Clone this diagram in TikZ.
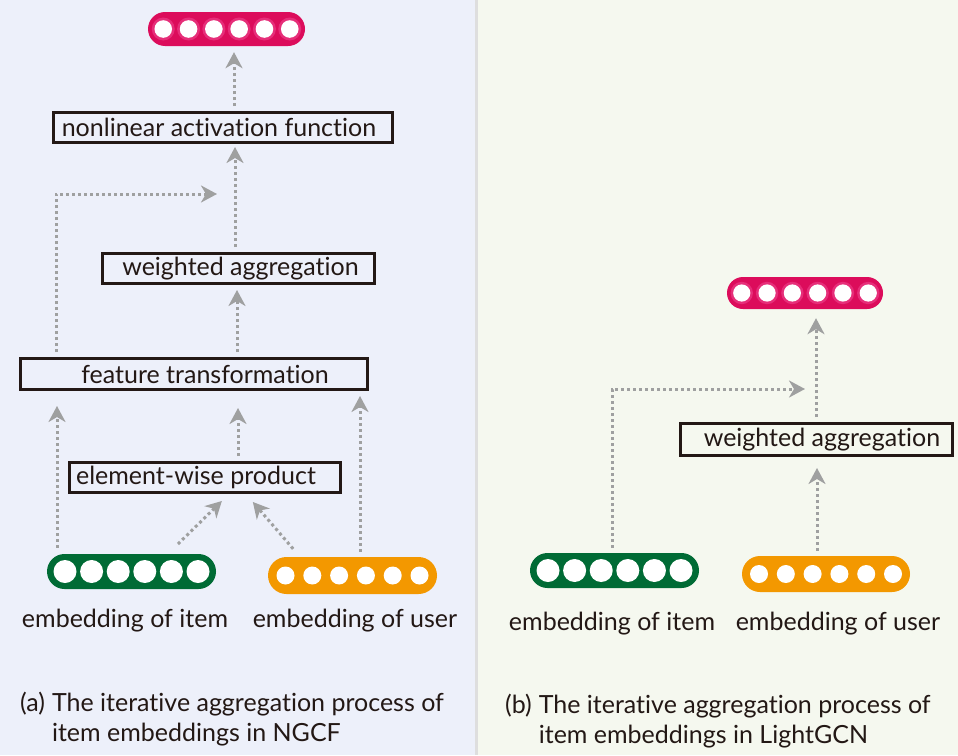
\documentclass[tikz,border=0pt]{standalone}
\usepackage{fontspec}
\setmainfont{Lato}[Ligatures={NoCommon,NoRequired,NoContextual}]
\usetikzlibrary{arrows.meta}

\definecolor{panelA}{HTML}{EDF0FA}
\definecolor{panelB}{HTML}{F5F8EF}
\definecolor{divider}{HTML}{DEDEDE}
\definecolor{ink}{HTML}{231815}
\definecolor{flowgray}{HTML}{9FA0A0}
\definecolor{outpink}{HTML}{DC0C5B}
\definecolor{outring}{HTML}{E62E79}
\definecolor{itemgreen}{HTML}{006B35}
\definecolor{userorange}{HTML}{F39800}

\newcommand{\txtsize}{\fontsize{25}{33}\selectfont}
\newcommand{\capsize}{\fontsize{25}{30}\selectfont}

\begin{document}
\begin{tikzpicture}[x=1pt,y=-1pt,
  opbox/.style={draw=ink, line width=3pt, inner sep=0pt, text=ink, font=\txtsize},
  flow/.style={draw=flowgray, line width=3pt, dash pattern=on 3pt off 3pt,
    -{Stealth[length=16pt,width=17pt,inset=5pt]}, shorten <=5pt},
  embbar/.style={inner sep=0pt, draw=none},
  lbl/.style={text=ink, font=\txtsize, inner sep=0pt},
  caption/.style={text=ink, font=\capsize, inner sep=0pt, anchor=base west}
]
\useasboundingbox (0,0) rectangle (958,755);

% two panels and the divider between them
\fill[panelA] (0,0) rectangle (475,755);
\fill[divider] (475,0) rectangle (478,755);
\fill[panelB] (478,0) rectangle (958,755);

% ---------- (a) NGCF ----------
\node[embbar, fill=outpink, minimum width=157pt, minimum height=34pt, rounded corners=17pt] (outL) at (226.5,29) {};
\foreach \i in {0,...,5} {
  \fill[outring] ([xshift={(\i-2.5)*25.3pt}]outL.center) circle[radius=11.5pt];
  \fill[white] ([xshift={(\i-2.5)*25.3pt}]outL.center) circle[radius=8.8pt];
}

\node[opbox, minimum width=339pt, minimum height=30pt] (nlf) at (223,127.5) {\hspace*{-8pt}nonlinear activation function};
\node[opbox, minimum width=272pt, minimum height=30pt] (waL) at (238.5,268.5) {\hspace*{4pt}weighted aggregation};
\node[opbox, minimum width=347pt, minimum height=31pt] (ftL) at (194,374) {\hspace*{22pt}feature transformation};
\node[opbox, minimum width=271pt, minimum height=30pt] (ewp) at (205,477.5) {element-wise product\hspace*{18pt}};

\node[embbar, fill=itemgreen, minimum width=169pt, minimum height=35pt, rounded corners=17.5pt] (gL) at (131.5,571.5) {};
\foreach \i in {0,...,5}
  \fill[white] ([xshift={(\i-2.5)*26.6pt}]gL.center) circle[radius=11.5pt];

\node[embbar, fill=userorange, minimum width=169pt, minimum height=37pt, rounded corners=18.5pt] (oL) at (352.5,575.5) {};
\foreach \i in {0,...,5}
  \fill[white] ([xshift={(\i-2.5)*26.8pt}]oL.center) circle[radius=9pt];

\coordinate (skipL) at (217,194);

\draw[flow, shorten >=6pt] (nlf.north -| 234,0) -- (outL.south -| 234,0);
\draw[flow, shorten >=3pt] (waL.north -| 235,0) -- (nlf.south -| 235,0);
\draw[flow] (ftL.north -| 56,0) |- (skipL);
\draw[flow, shorten >=5pt] (ftL.north -| 237,0) -- (waL.south -| 237,0);
\draw[flow, shorten <=6pt, shorten >=15pt] (gL.north -| 57,0) -- (ftL.south -| 57,0);
\draw[flow, shorten >=17pt] (ewp.north -| 238,0) -- (ftL.south -| 238,0);
\draw[flow, shorten >=5pt] (oL.north -| 360,0) -- (ftL.south -| 360,0);
\draw[flow, shorten <=14pt, shorten >=10pt] (gL.north -| 168,0) -- (ewp.south -| 229,0);
\draw[flow, shorten <=10.5pt, shorten >=10.5pt] (oL.north -| 300,0) -- (ewp.south -| 246,0);

\node[lbl] (lgL) at (125,621) {embedding of item};
\node[lbl] (loL) at (355,621) {embedding of user};

\node[caption] (capA) at (20,711)
  {(a)\hspace{7pt}\begin{tabular}[t]{@{}l@{}}The iterative aggregation process of\\item embeddings in NGCF\end{tabular}};

% ---------- (b) LightGCN ----------
\node[embbar, fill=outpink, minimum width=156pt, minimum height=32pt, rounded corners=16pt] (outR) at (805,293) {};
\foreach \i in {0,...,5} {
  \fill[outring] ([xshift={(\i-2.5)*25.3pt}]outR.center) circle[radius=11.2pt];
  \fill[white] ([xshift={(\i-2.5)*25.3pt}]outR.center) circle[radius=8.6pt];
}

\node[opbox, minimum width=272pt, minimum height=32pt] (waR) at (816.5,439.5) {\hspace*{11pt}weighted aggregation};

\node[embbar, fill=itemgreen, minimum width=169pt, minimum height=35pt, rounded corners=17.5pt] (gR) at (614.5,570.5) {};
\foreach \i in {0,...,5}
  \fill[white] ([xshift={(\i-2.5)*26.6pt}]gR.center) circle[radius=11.5pt];

\node[embbar, fill=userorange, minimum width=168pt, minimum height=36pt, rounded corners=18pt] (oR) at (826,574) {};
\foreach \i in {0,...,5}
  \fill[white] ([xshift={(\i-2.5)*26.8pt}]oR.center) circle[radius=9pt];

\coordinate (skipR) at (805,389);

\draw[flow, shorten >=9pt] (waR.north -| 816,0) -- (outR.south -| 816,0);
\draw[flow] (gR.north -| 612,0) |- (skipR);
\draw[flow, shorten >=11pt] (oR.north -| 817,0) -- (waR.south -| 817,0);

\node[lbl] (lgR) at (612,624) {embedding of item};
\node[lbl] (loR) at (838,624) {embedding of user};

\node[caption] (capB) at (505,713)
  {(b)\hspace{7pt}\begin{tabular}[t]{@{}l@{}}The iterative aggregation process of\\item embeddings in LightGCN\end{tabular}};
\end{tikzpicture}
\end{document}
